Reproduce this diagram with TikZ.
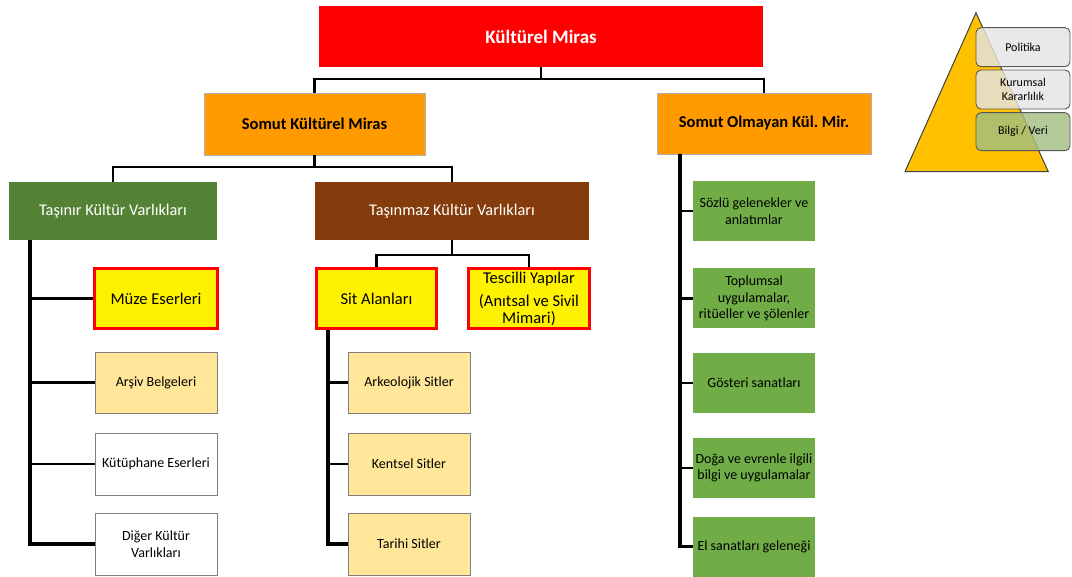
\documentclass[tikz,border=0pt]{standalone}
\usepackage{fontspec}
\setmainfont{Carlito}
\frenchspacing
\definecolor{heritagered}{HTML}{FF0000}
\definecolor{orangebox}{HTML}{FF9A00}
\definecolor{movgreen}{HTML}{548235}
\definecolor{immbrown}{HTML}{843C0C}
\definecolor{tanbox}{HTML}{FFE699}
\definecolor{leafgreen}{HTML}{70AD47}
\definecolor{edgegray}{HTML}{7F7F7F}
\definecolor{pyrgold}{HTML}{FFC000}
\definecolor{pyrgray}{HTML}{E4E4E4}
\definecolor{pyrgreen}{HTML}{A3BE83}
\tikzset{
  base/.style={align=center, inner sep=2pt, anchor=center},
  rootbox/.style={base, fill=heritagered, text=white, font=\bfseries\fontsize{19}{22}\selectfont},
  orangestyle/.style={base, fill=orangebox, draw=edgegray!60, line width=0.6pt, font=\bfseries\fontsize{16.5}{19}\selectfont},
  darkbox/.style={base, text=white, font=\fontsize{16.3}{19}\selectfont},
  hilite/.style={base, fill=yellow, draw=heritagered, line width=3pt, font=\fontsize{16.5}{17}\selectfont},
  leafbox/.style={base, draw=edgegray, line width=0.8pt, minimum width=122, minimum height=61, font=\fontsize{14}{16.5}\selectfont},
  greenleaf/.style={base, fill=leafgreen, minimum width=122, minimum height=60, font=\fontsize{14}{16.5}\selectfont},
  conn/.style={draw=black, line width=2.6pt},
  lastconn/.style={draw=black, line width=3.6pt},
  pyrbox/.style={base, rounded corners=5pt, draw=black!65, line width=0.9pt, fill opacity=0.82, text opacity=1, minimum width=94, minimum height=39, font=\fontsize{12}{14.5}\selectfont}
}
\begin{document}
\begin{tikzpicture}[x=1pt,y=-1pt]
\useasboundingbox (0,0) rectangle (1072,577);

% top level
\node[rootbox, minimum width=444, minimum height=61] (km) at (541,36.5) {Kültürel Miras};
\node[orangestyle, minimum width=221, minimum height=62] (skm) at (314.5,124) {Somut Kültürel Miras};
\node[orangestyle, minimum width=214, minimum height=61] (som) at (764,123.5) {Somut Olmayan Kül. Mir.};

% second level
\node[darkbox, fill=movgreen, minimum width=208, minimum height=58] (tk) at (113,211) {Taşınır Kültür Varlıkları};
\node[darkbox, fill=immbrown, minimum width=274, minimum height=58] (tmz) at (452,211) {Taşınmaz Kültür Varlıkları};

% movable heritage
\node[hilite, minimum width=123, minimum height=60] (muze) at (156,298.5) {Müze Eserleri};
\node[leafbox, fill=tanbox] (arsiv) at (156,382.5) {Arşiv Belgeleri};
\node[leafbox, fill=white, minimum height=62] (kutup) at (156,464) {Kütüphane Eserleri};
\node[leafbox, fill=white, minimum height=62] (diger) at (156,544) {Diğer Kültür\\Varlıkları};

% immovable heritage
\node[hilite, minimum width=120, minimum height=60] (sit) at (376.5,298.5) {Sit Alanları};
\node[hilite, minimum width=121, minimum height=60, inner sep=0pt] (tescil) at (529,298.5) {Tescilli Yapılar\\[6pt](Anıtsal ve Sivil\\Mimari)};
\node[leafbox, fill=tanbox] (ark) at (409,382.5) {Arkeolojik Sitler};
\node[leafbox, fill=tanbox, minimum height=62] (kent) at (409,464) {Kentsel Sitler};
\node[leafbox, fill=tanbox, minimum height=62] (tarihi) at (409,544) {Tarihi Sitler};

% intangible heritage
\node[greenleaf] (sozlu) at (754,211) {Sözlü gelenekler ve\\anlatımlar};
\node[greenleaf] (topl) at (754,298.5) {Toplumsal\\uygulamalar,\\ritüeller ve şölenler};
\node[greenleaf] (gost) at (754,383) {Gösteri sanatları};
\node[greenleaf] (doga) at (754,468) {Doğa ve evrenle ilgili\\bilgi ve uygulamalar};
\node[greenleaf] (el) at (754,546.5) {El sanatları geleneği};

% junctions
\coordinate (j1) at (541,79);
\coordinate (j2) at (314.5,167);
\coordinate (j3) at (452,255);
\coordinate (tkstem) at (30,240);
\coordinate (sitstem) at (328,330);
\coordinate (somstem) at (680,154);

% connectors
\draw[conn] (km.south) -- (j1) -| (skm.north);
\draw[conn] (j1) -| (som.north);
\draw[conn] (skm.south) -- (j2) -| (tk.north);
\draw[conn] (j2) -| (tmz.north);
\draw[conn] (tmz.south) -- (j3) -| (sit.north);
\draw[conn] (j3) -| (tescil.north);

\draw[conn] (tkstem) |- (muze.west);
\draw[conn] (tkstem) |- (arsiv.west);
\draw[conn] (tkstem) |- (kutup.west);
\draw[lastconn] (tkstem) |- (diger.west);

\draw[conn] (sitstem) |- (ark.west);
\draw[conn] (sitstem) |- (kent.west);
\draw[lastconn] (sitstem) |- (tarihi.west);

\draw[conn] (somstem) |- (sozlu.west);
\draw[conn] (somstem) |- (topl.west);
\draw[conn] (somstem) |- (gost.west);
\draw[conn] (somstem) |- (doga.west);
\draw[lastconn] (somstem) |- (el.west);

% pyramid
\coordinate (apex) at (976,12.7);
\coordinate (baseL) at (905,171.7);
\coordinate (baseR) at (1048.3,171.7);
\fill[pyrgold] (apex) -- (baseL) -- (baseR) -- cycle;
\draw[black!75, line width=1pt, line join=miter] (apex) -- (baseL) -- (baseR) -- cycle;
\node[pyrbox, fill=pyrgray] (pol) at (1023,47.2) {Politika};
\node[pyrbox, fill=pyrgray] (kur) at (1023,89.5) {Kurumsal\\Kararlılık};
\node[pyrbox, fill=pyrgreen, minimum height=38] (bil) at (1023,131.7) {Bilgi / Veri};
\end{tikzpicture}
\end{document}
